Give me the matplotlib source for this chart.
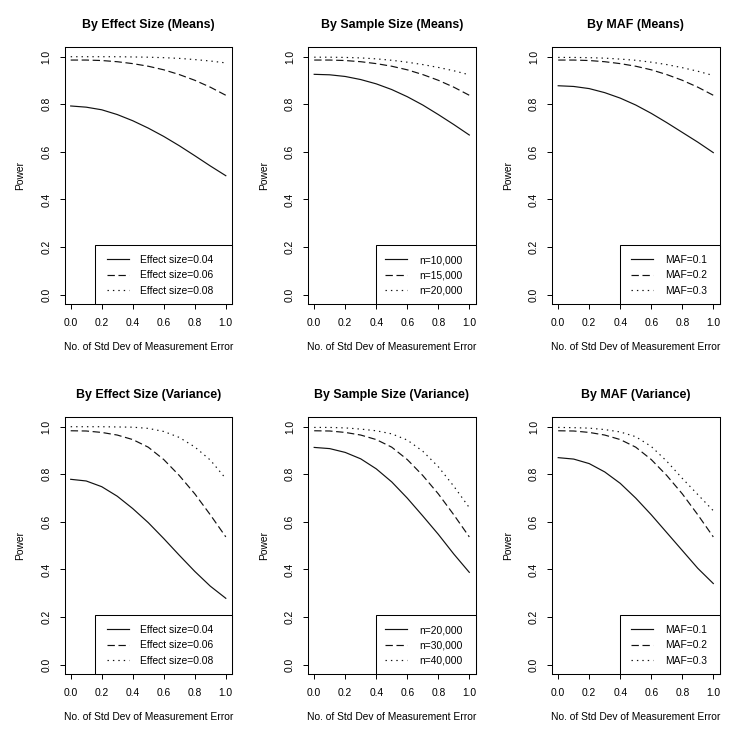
import matplotlib
matplotlib.use("Agg")
import matplotlib.pyplot as plt
from matplotlib.patches import Rectangle
from matplotlib.lines import Line2D

plt.rcParams['font.family'] = ['Liberation Sans', 'DejaVu Sans']
plt.rcParams['lines.scale_dashes'] = False

# ---- data ----
x_sd = [0.0, 0.1, 0.2, 0.3, 0.4, 0.5, 0.6, 0.7, 0.8, 0.9, 1.0]

titles = ["By Effect Size (Means)", "By Sample Size (Means)", "By MAF (Means)",
          "By Effect Size (Variance)", "By Sample Size (Variance)", "By MAF (Variance)"]

labels_effect = ["Effect size=0.04", "Effect size=0.06", "Effect size=0.08"]
labels_n_means = ["n=10,000", "n=15,000", "n=20,000"]
labels_maf = ["MAF=0.1", "MAF=0.2", "MAF=0.3"]
labels_n_var = ["n=20,000", "n=30,000", "n=40,000"]

# Means panels
means_effect_004 = [0.793, 0.788, 0.777, 0.757, 0.731, 0.700, 0.665, 0.626, 0.584, 0.541, 0.500]
means_default = [0.986, 0.986, 0.984, 0.979, 0.971, 0.960, 0.945, 0.925, 0.901, 0.872, 0.838]
means_effect_008 = [1.000, 1.000, 1.000, 1.000, 0.999, 0.998, 0.996, 0.993, 0.988, 0.982, 0.974]

means_n_10k = [0.926, 0.924, 0.917, 0.904, 0.886, 0.862, 0.832, 0.797, 0.757, 0.715, 0.671]
means_n_20k = [0.998, 0.998, 0.997, 0.995, 0.991, 0.985, 0.977, 0.967, 0.955, 0.941, 0.924]

means_maf_01 = [0.878, 0.875, 0.866, 0.849, 0.826, 0.797, 0.762, 0.723, 0.682, 0.641, 0.597]
means_maf_03 = [0.997, 0.997, 0.996, 0.994, 0.990, 0.985, 0.977, 0.967, 0.954, 0.939, 0.921]

# Variance panels
var_effect_004 = [0.779, 0.772, 0.748, 0.708, 0.656, 0.597, 0.530, 0.460, 0.392, 0.330, 0.279]
var_default = [0.983, 0.982, 0.976, 0.965, 0.946, 0.914, 0.862, 0.795, 0.718, 0.630, 0.537]
var_effect_008 = [1.000, 1.000, 1.000, 0.999, 0.998, 0.993, 0.980, 0.955, 0.915, 0.860, 0.782]

var_n_20k = [0.913, 0.908, 0.892, 0.865, 0.823, 0.768, 0.700, 0.625, 0.548, 0.465, 0.388]
var_n_40k = [0.997, 0.997, 0.995, 0.990, 0.983, 0.970, 0.944, 0.897, 0.832, 0.750, 0.660]

var_maf_01 = [0.870, 0.864, 0.845, 0.810, 0.762, 0.700, 0.630, 0.555, 0.480, 0.405, 0.341]
var_maf_03 = [0.997, 0.996, 0.994, 0.988, 0.978, 0.958, 0.917, 0.855, 0.783, 0.715, 0.647]

panel_series = [
    [means_effect_004, means_default, means_effect_008],
    [means_n_10k, means_default, means_n_20k],
    [means_maf_01, means_default, means_maf_03],
    [var_effect_004, var_default, var_effect_008],
    [var_n_20k, var_default, var_n_40k],
    [var_maf_01, var_default, var_maf_03],
]
panel_labels = [labels_effect, labels_n_means, labels_maf,
                labels_effect, labels_n_var, labels_maf]

xticks = [0.0, 0.2, 0.4, 0.6, 0.8, 1.0]
yticks = [0.0, 0.2, 0.4, 0.6, 0.8, 1.0]
xlabel = "No. of Std Dev of Measurement Error"
ylabel = "Power"

# ---- layout ----
W, H = 750, 743
fig = plt.figure(figsize=(W / 100, H / 100), dpi=100)

col_left = [64.5, 308, 552]
ax_w = 167.5
row_top = [47.2, 417.2]
ax_h = 257

# legend geometry per column (axes fraction)
leg_box_left = [0.185, 0.404, 0.407]
leg_line_left = [0.251, 0.462, 0.473]

styles = [dict(linestyle='-'),
          dict(dashes=(5.3, 2.6)),
          dict(dashes=(1.0, 2.9))]

fs = 7.4
lw = 0.85

for i in range(6):
    r, c = divmod(i, 3)
    left = col_left[c] / W
    bottom = 1 - (row_top[r] + ax_h) / H
    ax = fig.add_axes([left, bottom, ax_w / W, ax_h / H])
    for series, st in zip(panel_series[i], styles):
        ax.plot(x_sd, series, color='#111111', lw=lw, **st)
    ax.set_xlim(-0.04, 1.04)
    ax.set_ylim(-0.04, 1.04)
    ax.set_xticks(xticks)
    ax.set_yticks(yticks)
    ax.set_xticklabels([f"{v:.1f}" for v in xticks], fontsize=fs)
    ax.set_yticklabels([f"{v:.1f}" for v in yticks], fontsize=fs,
                       rotation=90, va='center')
    ax.tick_params(direction='out', length=3.6, width=0.7, color='black')
    ax.tick_params(axis='x', pad=6.5)
    ax.tick_params(axis='y', pad=5.8)
    for sp in ax.spines.values():
        sp.set_linewidth(0.75)
        sp.set_color('black')
    ax.set_title(titles[i], fontsize=8.9, fontweight='bold', pad=14)
    ax.set_xlabel(xlabel, fontsize=fs, va='center')
    ax.xaxis.set_label_coords(0.5, -43 / ax_h)
    ax.set_ylabel(ylabel, fontsize=fs, va='center')
    ax.yaxis.set_label_coords(-44 / ax_w, 0.5)

    # legend box
    bl = leg_box_left[c]
    box_top = 0.23
    rect = Rectangle((bl, 0), 1 - bl, box_top, transform=ax.transAxes,
                     facecolor='white', edgecolor='black', lw=0.75,
                     zorder=3, clip_on=False)
    ax.add_patch(rect)
    handles = [Line2D([], [], color='#111111', lw=lw, **st) for st in styles]
    leg = ax.legend(handles, panel_labels[i], loc='center left',
                    bbox_to_anchor=(leg_line_left[c], 0.112),
                    frameon=False, fontsize=fs, handlelength=2.15,
                    handletextpad=1.15, labelspacing=0.52, borderpad=0,
                    borderaxespad=0)
    leg.set_zorder(4)

fig.savefig("out.png", dpi=100)
